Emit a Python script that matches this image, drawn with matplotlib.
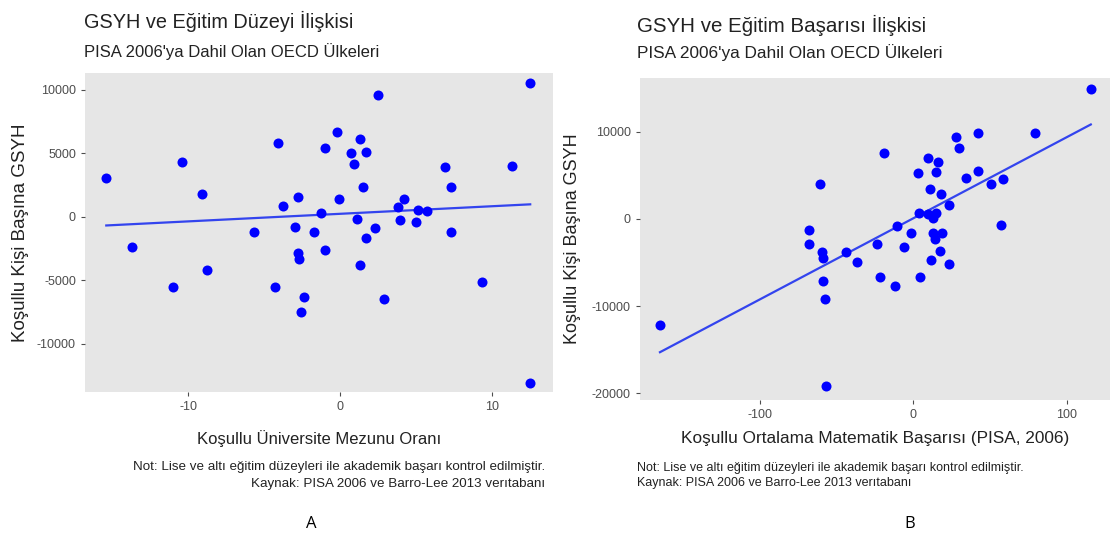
import numpy as np
import matplotlib
matplotlib.use("Agg")
import matplotlib.pyplot as plt

plt.rcParams['font.family'] = ['Liberation Sans', 'DejaVu Sans']
plt.rcParams['axes.unicode_minus'] = False

# Panel A: conditional university graduate rate vs conditional GDP per capita
edu_x = [-15.4, -10.4, -9.1, -13.7, -8.8, -11.0, -4.1, -3.8, -2.8, -5.7,
         -3.0, -2.8, -2.7, -4.3, -2.4, -2.6, 2.5, 12.5, -0.2, -1.0,
         1.3, 0.7, 1.7, 0.9, 6.9, 11.3, 1.5, 7.3, -0.1, -1.3,
         1.1, 4.2, 3.8, 5.1, 5.7, 3.9, 5.0, -1.7, 2.3, 1.7,
         7.3, -1.0, 1.3, 9.3, 2.9, 12.5]
edu_y = [3046, 4296, 1796, -2421, -4217, -5545, 5779, 859, 1562, -1172,
         -781, -2890, -3358, -5545, -6326, -7498, 9606, 10544, 6639, 5389,
         6092, 4998, 5077, 4139, 3905, 3983, 2343, 2343, 1406, 312,
         -156, 1406, 781, 547, 469, -234, -391, -1250, -859, -1718,
         -1250, -2655, -3827, -5155, -6482, -13121]

# Panel B: conditional PISA math score vs conditional GDP per capita
math_x = [-165.0, -60.6, -67.7, -67.7, -59.4, -58.7, -43.9, -36.8, -58.7, -57.4,
          -56.8, 115.5, 41.9, 79.4, 27.7, 29.7, -19.4, 9.7, 16.1, 14.8,
          3.2, 41.9, 34.2, 50.3, 58.1, 11.0, 18.1, 23.2, 3.9, 9.7,
          14.8, 12.9, 56.8, -11.0, -1.3, 12.9, 18.7, 14.2, -23.9, -5.8,
          17.4, 11.6, 23.2, -21.9, -12.3, 4.5]
math_y = [-12155, 3976, -1250, -2840, -3749, -4430, -3749, -4998, -7157, -9202,
          -19198, 14882, 9883, 9883, 9429, 8179, 7611, 7043, 6589, 5453,
          5339, 5566, 4658, 3976, 4544, 3408, 2840, 1590, 682, 568,
          682, 114, -682, -795, -1590, -1590, -1590, -2272, -2840, -3181,
          -3635, -4658, -5226, -6702, -7725, -6702]

W, H = 1118, 541
fig = plt.figure(figsize=(W / 100, H / 100), dpi=100)
fig.patch.set_facecolor('white')


def px_axes(l, t, r, b):
    return fig.add_axes([l / W, 1 - b / H, (r - l) / W, (b - t) / H])


def ftext(x, y, s, **kw):
    fig.text(x / W, 1 - y / H, s, **kw)


def panel(ax, xs, ys, xlim, ylim, xticks, yticks, tsize):
    ax.set_facecolor('#e6e6e6')
    for sp in ax.spines.values():
        sp.set_visible(False)
    ax.scatter(xs, ys, s=52, color='#0000ff', zorder=3, linewidths=0)
    xs_a = np.array(xs)
    k, c = np.polyfit(xs_a, np.array(ys), 1)
    lx = np.array([xs_a.min(), xs_a.max()])
    ax.plot(lx, k * lx + c, color='#3344ee', lw=1.6, zorder=2)
    ax.set_xlim(*xlim)
    ax.set_ylim(*ylim)
    ax.set_xticks(xticks)
    ax.set_yticks(yticks)
    ax.tick_params(colors='#4d4d4d', labelsize=tsize, length=3, width=0.8)


axA = px_axes(85, 73, 553, 392)
panel(axA, edu_x, edu_y, (-16.8, 14.0), (-13800, 11300),
      [-10, 0, 10], [-10000, -5000, 0, 5000, 10000], 9)
axA.set_xlabel('Koşullu Üniversite Mezunu Oranı', fontsize=12, color='#222222')
axA.xaxis.set_label_coords(0.5, -0.12)
axA.set_ylabel('Koşullu Kişi Başına GSYH', fontsize=13.5, color='#222222')
axA.yaxis.set_label_coords(-56 / 468, 0.5)

axB = px_axes(640, 78, 1110, 400)
panel(axB, math_x, math_y, (-178, 128), (-20800, 16200),
      [-100, 0, 100], [-20000, -10000, 0, 10000], 9)
axB.set_xlabel('Koşullu Ortalama Matematik Başarısı (PISA, 2006)', fontsize=12.4,
               color='#222222')
axB.xaxis.set_label_coords(0.5, -0.095)
axB.set_ylabel('Koşullu Kişi Başına GSYH', fontsize=13, color='#222222')
axB.yaxis.set_label_coords(-59 / 470, 0.5)

# titles
ftext(84, 21, 'GSYH ve Eğitim Düzeyi İlişkisi', fontsize=14.3, color='#222222', va='center')
ftext(84, 52, "PISA 2006'ya Dahil Olan OECD Ülkeleri", fontsize=12, color='#222222', va='center')
ftext(637, 25, 'GSYH ve Eğitim Başarısı İlişkisi', fontsize=14.8, color='#222222', va='center')
ftext(637, 53, "PISA 2006'ya Dahil Olan OECD Ülkeleri", fontsize=12.4, color='#222222', va='center')

# captions
note = 'Not: Lise ve altı eğitim düzeyleri ile akademik başarı kontrol edilmiştir.'
src = 'Kaynak: PISA 2006 ve Barro-Lee 2013 verıtabanı'
ftext(545, 467, note, fontsize=9.6, color='#222222', ha='right', va='center')
ftext(545, 484, src, fontsize=9.6, color='#222222', ha='right', va='center')
ftext(637, 468, note, fontsize=9.0, color='#222222', ha='left', va='center')
ftext(637, 483, src, fontsize=9.0, color='#222222', ha='left', va='center')

# panel letters
ftext(311, 524, 'A', fontsize=12, family=['Open Sans', 'DejaVu Sans'], ha='center', va='center')
ftext(910, 524, 'B', fontsize=12, family=['Open Sans', 'DejaVu Sans'], ha='center', va='center')

fig.savefig('out.png', dpi=100)
